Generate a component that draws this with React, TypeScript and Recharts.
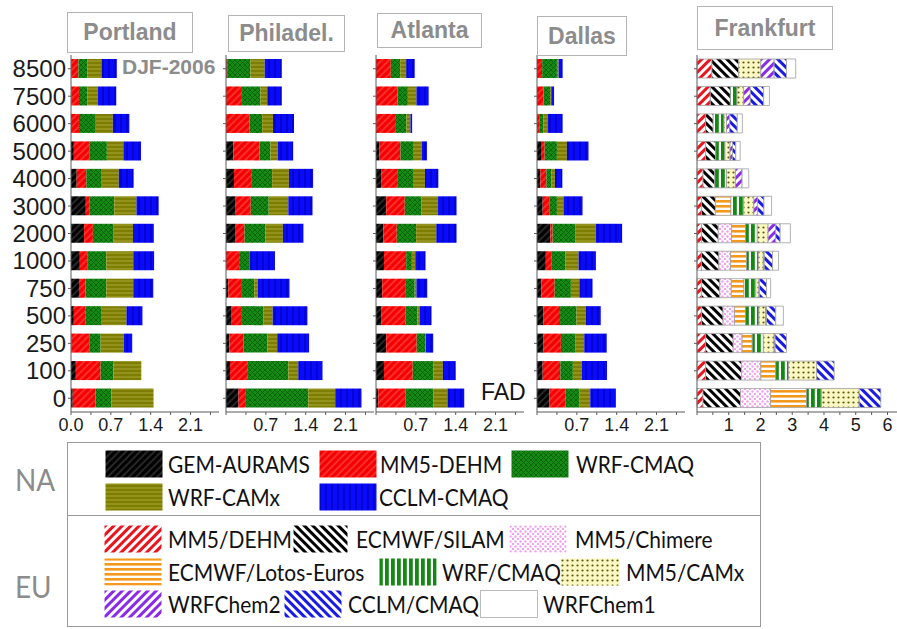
import React from 'react'
import { BarChart, Bar, XAxis, YAxis } from 'recharts'

// altitude levels (m), top to bottom
const heights = ['8500', '7500', '6000', '5000', '4000', '3000', '2000', '1000', '750', '500', '250', '100', '0']

// ---- NA models: Portland
const portlandGem = [0.01, 0.005, 0, 0.05, 0.1, 0.26, 0.23, 0.155, 0.14, 0.05, 0.005, 0.085, 0.03]
const portlandDehm = [0.12, 0.135, 0.14, 0.27, 0.17, 0.07, 0.155, 0.13, 0.115, 0.2, 0.315, 0.435, 0.4]
const portlandCmaq = [0.155, 0.145, 0.295, 0.31, 0.27, 0.43, 0.365, 0.335, 0.365, 0.29, 0.2, 0.225, 0.28]
const portlandCamx = [0.25, 0.19, 0.3, 0.29, 0.3, 0.39, 0.34, 0.475, 0.475, 0.435, 0.41, 0.49, 0.74]
const portlandCclm = [0.27, 0.32, 0.29, 0.31, 0.26, 0.39, 0.365, 0.365, 0.35, 0.28, 0.145, 0, 0]

// Philadelphia
const phillyGem = [0.01, 0, 0, 0.13, 0.14, 0.17, 0.17, 0, 0.04, 0.1, 0.06, 0.07, 0.22]
const phillyDehm = [0.01, 0.28, 0.415, 0.46, 0.315, 0.265, 0.155, 0.23, 0.225, 0.165, 0.25, 0.315, 0.13]
const phillyCmaq = [0.41, 0.325, 0.22, 0.19, 0.355, 0.315, 0.365, 0.185, 0.23, 0.395, 0.415, 0.71, 1.095]
const phillyCamx = [0.25, 0.12, 0.19, 0.13, 0.295, 0.345, 0.31, 0, 0.065, 0.16, 0.175, 0.175, 0.475]
const phillyCclm = [0.3, 0.255, 0.37, 0.27, 0.425, 0.425, 0.36, 0.445, 0.555, 0.61, 0.56, 0.425, 0.46]

// Atlanta
const atlantaGem = [0, 0, 0, 0.055, 0.09, 0.18, 0.13, 0.14, 0.11, 0.09, 0.18, 0.14, 0.04]
const atlantaDehm = [0.26, 0.38, 0.35, 0.375, 0.295, 0.325, 0.235, 0.39, 0.415, 0.425, 0.535, 0.505, 0.475]
const atlantaCmaq = [0.165, 0.18, 0.185, 0.22, 0.265, 0.295, 0.34, 0.1, 0.155, 0.21, 0.15, 0.36, 0.49]
const atlantaCamx = [0.105, 0.15, 0.07, 0.155, 0.21, 0.29, 0.355, 0.06, 0.03, 0.04, 0.01, 0.17, 0.25]
const atlantaCclm = [0.15, 0.215, 0.03, 0.09, 0.235, 0.325, 0.355, 0.18, 0.19, 0.21, 0.13, 0.225, 0.295]

// Dallas
const dallasGem = [0, 0, 0, 0.07, 0.06, 0.1, 0.235, 0.155, 0.075, 0.115, 0.115, 0.1, 0.22]
const dallasDehm = [0.09, 0.115, 0.05, 0.065, 0.105, 0.115, 0.04, 0.105, 0.235, 0.29, 0.305, 0.31, 0.285]
const dallasCmaq = [0.26, 0.115, 0.06, 0.215, 0.09, 0.135, 0.395, 0.235, 0.285, 0.29, 0.25, 0.22, 0.235]
const dallasCamx = [0.03, 0.02, 0.075, 0.175, 0.06, 0.115, 0.36, 0.235, 0.15, 0.165, 0.16, 0.16, 0.195]
const dallasCclm = [0.07, 0.05, 0.265, 0.38, 0.13, 0.335, 0.465, 0.305, 0.23, 0.26, 0.395, 0.44, 0.45]

// ---- EU models: Frankfurt
const fraDehm = [0.47, 0.42, 0.27, 0.27, 0.19, 0.14, 0.14, 0.14, 0.14, 0.14, 0.27, 0.27, 0.19]
const fraSilam = [0.84, 0.63, 0.24, 0.32, 0.37, 0.44, 0.53, 0.55, 0.58, 0.68, 0.87, 1.13, 1.18]
const fraChimere = [0, 0, 0, 0, 0, 0, 0.42, 0.37, 0.36, 0.36, 0.28, 0.61, 0.95]
const fraLotos = [0, 0, 0, 0, 0, 0.49, 0.44, 0.5, 0.4, 0.35, 0.32, 0.47, 1.13]
const fraCmaq = [0, 0.21, 0.34, 0.29, 0.37, 0.4, 0.37, 0.37, 0.37, 0.42, 0.35, 0.4, 0.47]
const fraCamx = [0.7, 0.21, 0.08, 0.16, 0.28, 0.32, 0.34, 0.16, 0.1, 0.21, 0.34, 0.89, 1.19]
const fraChem2 = [0.42, 0.21, 0.1, 0.08, 0.21, 0.12, 0.24, 0.03, 0.02, 0.03, 0.03, 0, 0]
const fraCclm = [0.39, 0.42, 0.24, 0.1, 0, 0.2, 0.14, 0.26, 0.22, 0.29, 0.36, 0.55, 0.68]
const fraChem1 = [0.29, 0.18, 0.16, 0.14, 0.21, 0.24, 0.32, 0.19, 0.13, 0.24, 0, 0, 0]

const naTicks = [0, 0.35, 0.7, 1.05, 1.4, 1.75, 2.1, 2.45]
const euTicks = [0, 0.5, 1, 1.5, 2, 2.5, 3, 3.5, 4, 4.5, 5, 5.5, 6]

const naSeries = [
  { key: 'gem', name: 'GEM-AURAMS', fill: 'url(#na-gem)' },
  { key: 'dehm', name: 'MM5-DEHM', fill: 'url(#na-dehm)' },
  { key: 'cmaq', name: 'WRF-CMAQ', fill: 'url(#na-cmaq)' },
  { key: 'camx', name: 'WRF-CAMx', fill: 'url(#na-camx)' },
  { key: 'cclm', name: 'CCLM-CMAQ', fill: 'url(#na-cclm)' },
]

const euSeries = [
  { key: 'dehm', name: 'MM5/DEHM', fill: 'url(#eu-dehm)' },
  { key: 'silam', name: 'ECMWF/SILAM', fill: 'url(#eu-silam)' },
  { key: 'chimere', name: 'MM5/Chimere', fill: 'url(#eu-chimere)' },
  { key: 'lotos', name: 'ECMWF/Lotos-Euros', fill: 'url(#eu-lotos)' },
  { key: 'cmaq', name: 'WRF/CMAQ', fill: 'url(#eu-cmaq)' },
  { key: 'camx', name: 'MM5/CAMx', fill: 'url(#eu-camx)' },
  { key: 'chem2', name: 'WRFChem2', fill: 'url(#eu-chem2)' },
  { key: 'cclm', name: 'CCLM/CMAQ', fill: 'url(#eu-cclm)' },
  { key: 'chem1', name: 'WRFChem1', fill: '#ffffff' },
]

const naRows = (gem: number[], dehm: number[], cmaq: number[], camx: number[], cclm: number[]) =>
  heights.map((h, i) => ({ h, gem: gem[i], dehm: dehm[i], cmaq: cmaq[i], camx: camx[i], cclm: cclm[i] }))

const portlandData = naRows(portlandGem, portlandDehm, portlandCmaq, portlandCamx, portlandCclm)
const phillyData = naRows(phillyGem, phillyDehm, phillyCmaq, phillyCamx, phillyCclm)
const atlantaData = naRows(atlantaGem, atlantaDehm, atlantaCmaq, atlantaCamx, atlantaCclm)
const dallasData = naRows(dallasGem, dallasDehm, dallasCmaq, dallasCamx, dallasCclm)
const frankfurtData = heights.map((h, i) => ({
  h,
  dehm: fraDehm[i],
  silam: fraSilam[i],
  chimere: fraChimere[i],
  lotos: fraLotos[i],
  cmaq: fraCmaq[i],
  camx: fraCamx[i],
  chem2: fraChem2[i],
  cclm: fraCclm[i],
  chem1: fraChem1[i],
}))

const AXIS = '#5a5a5a'
const SANS = '"Liberation Sans", Arial, sans-serif'
const LEGEND_FONT = 'Lato, "Liberation Sans", sans-serif'

function Patterns() {
  return (
    <svg width={0} height={0} style={{ position: 'absolute' }}>
      <defs>
        <pattern id="na-gem" patternUnits="userSpaceOnUse" width={5} height={5} patternTransform="rotate(45)">
          <rect width={5} height={5} fill="#000" />
          <line x1={1} y1={0} x2={1} y2={5} stroke="#4d4d4d" strokeWidth={1} />
        </pattern>
        <pattern id="na-dehm" patternUnits="userSpaceOnUse" width={5} height={5} patternTransform="rotate(45)">
          <rect width={5} height={5} fill="#f40000" />
          <line x1={1} y1={0} x2={1} y2={5} stroke="#ff5a5a" strokeWidth={1} />
        </pattern>
        <pattern id="na-cmaq" patternUnits="userSpaceOnUse" width={5} height={5}>
          <rect width={5} height={5} fill="#148c14" />
          <path d="M0 0 L5 5 M5 0 L0 5" stroke="#0a5a0a" strokeWidth={0.8} />
        </pattern>
        <pattern id="na-camx" patternUnits="userSpaceOnUse" width={4} height={4}>
          <rect width={4} height={4} fill="#7d7d00" />
          <line x1={0} y1={1} x2={4} y2={1} stroke="#a8a838" strokeWidth={1} />
        </pattern>
        <pattern id="na-cclm" patternUnits="userSpaceOnUse" width={6} height={6}>
          <rect width={6} height={6} fill="#0a0aff" />
          <line x1={1} y1={0} x2={1} y2={6} stroke="#00009a" strokeWidth={1} />
        </pattern>

        <pattern id="eu-dehm" patternUnits="userSpaceOnUse" width={6} height={6} patternTransform="rotate(45)">
          <rect width={6} height={6} fill="#fff" />
          <rect width={3} height={6} fill="#e8141e" />
        </pattern>
        <pattern id="eu-silam" patternUnits="userSpaceOnUse" width={6} height={6} patternTransform="rotate(-45)">
          <rect width={6} height={6} fill="#fff" />
          <rect width={3} height={6} fill="#000" />
        </pattern>
        <pattern id="eu-chimere" patternUnits="userSpaceOnUse" width={5} height={5}>
          <rect width={5} height={5} fill="#fff" />
          <circle cx={1.5} cy={1.5} r={1.2} fill="#f2a0f0" />
          <circle cx={4} cy={4} r={1.2} fill="#f2a0f0" />
        </pattern>
        <pattern id="eu-lotos" patternUnits="userSpaceOnUse" width={5} height={5}>
          <rect width={5} height={5} fill="#fff" />
          <rect y={0} width={5} height={2.6} fill="#f39a1e" />
        </pattern>
        <pattern id="eu-cmaq" patternUnits="userSpaceOnUse" width={6} height={6}>
          <rect width={6} height={6} fill="#fff" />
          <rect x={0} width={3.8} height={6} fill="#128a12" />
        </pattern>
        <pattern id="eu-camx" patternUnits="userSpaceOnUse" width={5} height={5}>
          <rect width={5} height={5} fill="#fbf8c4" />
          <circle cx={2.5} cy={2.5} r={1.1} fill="#5a5a10" />
        </pattern>
        <pattern id="eu-chem2" patternUnits="userSpaceOnUse" width={6} height={6} patternTransform="rotate(45)">
          <rect width={6} height={6} fill="#fff" />
          <rect width={3} height={6} fill="#8a2be8" />
        </pattern>
        <pattern id="eu-cclm" patternUnits="userSpaceOnUse" width={6} height={6} patternTransform="rotate(-45)">
          <rect width={6} height={6} fill="#fff" />
          <rect width={3} height={6} fill="#1a1ae6" />
        </pattern>
      </defs>
    </svg>
  )
}

const naFormatter = (showZero: boolean) => (v: number) => {
  const k = Math.round(v / 0.35)
  if (k % 2 === 1) return ''
  if (k === 0) return showZero ? '0.0' : ''
  return v.toFixed(1)
}

function NaPanel({ plotLeft, data, showLabels }: { plotLeft: number; data: any[]; showLabels?: boolean }) {
  const yw = showLabels ? 65 : 6
  return (
    <div style={{ position: 'absolute', left: plotLeft - yw, top: 0 }}>
      <BarChart
        width={yw + 150}
        height={442}
        data={data}
        layout="vertical"
        margin={{ top: 55, right: 2, bottom: 0, left: 0 }}
        barSize={19}
      >
        <XAxis
          type="number"
          domain={[0, 2.6]}
          ticks={naTicks}
          interval={0}
          height={30}
          stroke={AXIS}
          tickSize={3}
          tickMargin={3}
          tick={{ fill: '#1a1a1a', fontSize: 18 }}
          tickFormatter={naFormatter(!!showLabels)}
        />
        <YAxis
          type="category"
          dataKey="h"
          width={yw}
          interval={0}
          stroke={AXIS}
          tickSize={3}
          tickMargin={2}
          tick={{ fill: '#1a1a1a', fontSize: 24 }}
          tickFormatter={(v: string) => (showLabels ? v : '')}
        />
        {naSeries.map((s) => (
          <Bar key={s.key} dataKey={s.key} name={s.name} stackId="a" fill={s.fill} isAnimationActive={false} />
        ))}
      </BarChart>
    </div>
  )
}

function EuPanel({ plotLeft, data }: { plotLeft: number; data: any[] }) {
  const yw = 6
  return (
    <div style={{ position: 'absolute', left: plotLeft - yw, top: 0 }}>
      <BarChart
        width={yw + 200}
        height={442}
        data={data}
        layout="vertical"
        margin={{ top: 55, right: 0, bottom: 0, left: 0 }}
        barSize={19}
      >
        <XAxis
          type="number"
          domain={[0, 6.3]}
          ticks={euTicks}
          interval={0}
          height={30}
          stroke={AXIS}
          tickSize={3}
          tickMargin={3}
          tick={{ fill: '#1a1a1a', fontSize: 18 }}
          tickFormatter={(v: number) => (v > 0 && Number.isInteger(v) ? String(v) : '')}
        />
        <YAxis type="category" dataKey="h" width={yw} interval={0} stroke={AXIS} tickSize={3} tickFormatter={() => ''} />
        {euSeries.map((s) => (
          <Bar
            key={s.key}
            dataKey={s.key}
            name={s.name}
            stackId="a"
            fill={s.fill}
            stroke="#a0a0a0"
            strokeWidth={0.8}
            isAnimationActive={false}
          />
        ))}
      </BarChart>
    </div>
  )
}

function TitleBox({ text, left, top, width, height }: { text: string; left: number; top: number; width: number; height: number }) {
  return (
    <div
      style={{
        position: 'absolute',
        left,
        top,
        width,
        height,
        boxSizing: 'border-box',
        border: '1px solid #b4b4b4',
        display: 'flex',
        alignItems: 'center',
        justifyContent: 'center',
        color: '#8c8c8c',
        fontWeight: 'bold',
        fontSize: 23,
        fontFamily: SANS,
      }}
    >
      {text}
    </div>
  )
}

function LegendItem({ label, fill, sx, tx, cy, sw = 58, border }: { label: string; fill: string; sx: number; tx: number; cy: number; sw?: number; border?: boolean }) {
  return (
    <>
      <svg style={{ position: 'absolute', left: sx, top: cy - 14 }} width={sw} height={28}>
        <rect x={0.5} y={0.5} width={sw - 1} height={27} fill={fill} stroke={border ? '#bbbbbb' : 'none'} />
      </svg>
      <div
        style={{
          position: 'absolute',
          left: tx,
          top: cy - 15,
          height: 30,
          lineHeight: '30px',
          fontSize: 23,
          fontFamily: LEGEND_FONT,
          color: '#111',
          whiteSpace: 'nowrap',
          transform: 'scaleX(0.91)',
          transformOrigin: 'left center',
        }}
      >
        {label}
      </div>
    </>
  )
}

export default function App() {
  return (
    <div style={{ position: 'absolute', left: 0, top: 0, width: 897, height: 629, background: '#fff', overflow: 'hidden', fontFamily: SANS }}>
      <Patterns />

      <NaPanel plotLeft={71} data={portlandData} showLabels />
      <NaPanel plotLeft={226} data={phillyData} />
      <NaPanel plotLeft={376} data={atlantaData} />
      <NaPanel plotLeft={536.5} data={dallasData} />
      <EuPanel plotLeft={696.5} data={frankfurtData} />

      <TitleBox text="Portland" left={67} top={12} width={126} height={41} />
      <TitleBox text="Philadel." left={228} top={15} width={117} height={37} />
      <TitleBox text="Atlanta" left={377} top={13} width={105} height={35} />
      <TitleBox text="Dallas" left={537} top={16} width={90} height={40} />
      <TitleBox text="Frankfurt" left={697} top={6} width={136} height={44} />

      <div style={{ position: 'absolute', left: 122, top: 55, fontSize: 21, fontWeight: 'bold', color: '#8c8c8c' }}>DJF-2006</div>
      <div style={{ position: 'absolute', left: 481, top: 379, fontSize: 23, color: '#111' }}>FAD</div>

      {/* legend */}
      <div style={{ position: 'absolute', left: 67, top: 442, width: 694, height: 185, boxSizing: 'border-box', border: '1.5px solid #9a9a9a' }} />
      <div style={{ position: 'absolute', left: 67, top: 515, width: 694, height: 0, borderTop: '1.5px solid #9a9a9a' }} />
      <div style={{ position: 'absolute', left: 15, top: 460, fontSize: 31, color: '#8c8c8c', fontFamily: LEGEND_FONT, transform: 'scaleX(0.9)', transformOrigin: 'left center' }}>NA</div>
      <div style={{ position: 'absolute', left: 15, top: 567, fontSize: 31, color: '#8c8c8c', fontFamily: LEGEND_FONT, transform: 'scaleX(0.9)', transformOrigin: 'left center' }}>EU</div>

      <LegendItem label={naSeries[0].name} fill={naSeries[0].fill} sx={105} tx={168} cy={464} />
      <LegendItem label={naSeries[1].name} fill={naSeries[1].fill} sx={319} tx={380} cy={464} />
      <LegendItem label={naSeries[2].name} fill={naSeries[2].fill} sx={511} tx={576} cy={464} />
      <LegendItem label={naSeries[3].name} fill={naSeries[3].fill} sx={105} tx={168} cy={497} />
      <LegendItem label={naSeries[4].name} fill={naSeries[4].fill} sx={319} tx={379} cy={497} />

      <LegendItem label={euSeries[0].name} fill={euSeries[0].fill} sx={104} tx={168} cy={539} />
      <LegendItem label={euSeries[1].name} fill={euSeries[1].fill} sx={293} tx={356} cy={539} sw={55} />
      <LegendItem label={euSeries[2].name} fill={euSeries[2].fill} sx={509} tx={575} cy={539} />
      <LegendItem label={euSeries[3].name} fill={euSeries[3].fill} sx={104} tx={168} cy={572} />
      <LegendItem label={euSeries[4].name} fill={euSeries[4].fill} sx={379} tx={442} cy={572} />
      <LegendItem label={euSeries[5].name} fill={euSeries[5].fill} sx={560} tx={626} cy={572} sw={60} />
      <LegendItem label={euSeries[6].name} fill={euSeries[6].fill} sx={104} tx={168} cy={604} />
      <LegendItem label={euSeries[7].name} fill={euSeries[7].fill} sx={284} tx={348} cy={604} />
      <LegendItem label={euSeries[8].name} fill={euSeries[8].fill} sx={480} tx={543} cy={604} border />
    </div>
  )
}
